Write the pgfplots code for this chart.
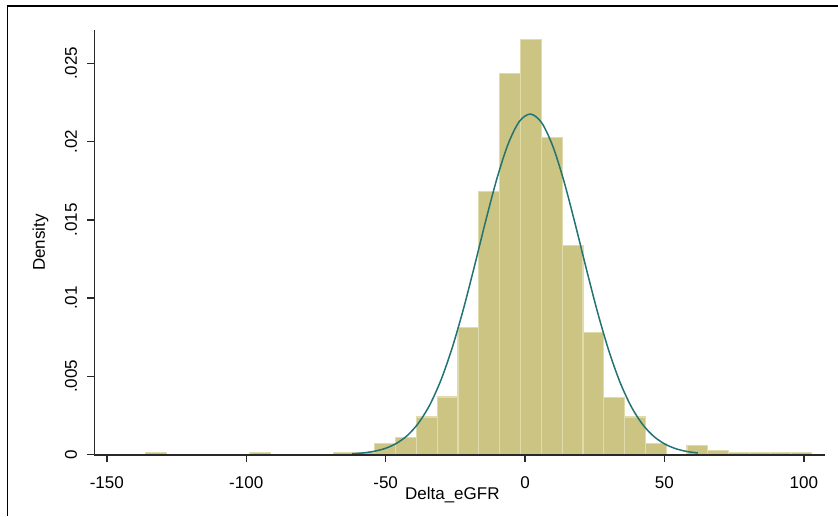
\documentclass[border=0pt]{standalone}
\usepackage{fontspec}
\setmainfont{Liberation Sans}
\usepackage{pgfplots}
\pgfplotsset{compat=1.18}
\definecolor{barfill}{RGB}{203,196,130}
\definecolor{baredge}{RGB}{224,219,172}
\definecolor{curvecol}{RGB}{35,115,115}
\definecolor{axisgray}{RGB}{40,40,40}
\begin{document}
\fontsize{8.5}{10}\selectfont
\begin{tikzpicture}
\useasboundingbox (0,0) rectangle (419pt,258pt);
\draw[line width=0.85pt] (3.75pt,0) -- (3.75pt,255.1pt) -- (419pt,255.1pt);
\begin{axis}[
  at={(47.15pt,30.5pt)}, anchor=south west,
  scale only axis, width=365.35pt, height=212.5pt,
  xmin=-154.5, xmax=107.6, ymin=-0.00003, ymax=0.02713,
  axis lines=left, axis line style={-, line width=0.7pt, color=axisgray},
  tick style={line width=0.7pt, color=axisgray},
  tick align=outside, major tick length=3.5pt,
  scaled y ticks=false, scaled x ticks=false,
  xtick={-150,-100,-50,0,50,100},
  xticklabels={-150,-100,-50,0,50,100},
  ytick={0,0.005,0.01,0.015,0.02,0.025},
  yticklabels={0,.005,.01,.015,.02,.025},
  xticklabel style={anchor=north, inner sep=0pt},
  yticklabel style={rotate=90, anchor=base, inner sep=0pt},
  xticklabel shift=7.3pt,
  yticklabel shift=5.2pt,
  font=\fontsize{8.5}{10}\selectfont,
  xlabel={Delta\_eGFR},
  ylabel={Density},
  xlabel style={at={(axis description cs:0.490,-0.1035)}, anchor=base, inner sep=0pt},
  ylabel style={at={(axis description cs:-0.0675,0.5)}, rotate=0, anchor=base, inner sep=0pt},
  axis on top,
]
\addplot[ybar interval, fill=barfill, draw=baredge, line width=0.6pt] coordinates {
(-136.000,0.00013) (-128.535,0) (-121.070,0) (-113.605,0) (-106.140,0)
(-98.675,0.00013) (-91.210,0) (-83.745,0) (-76.280,0)
(-68.815,0.00013) (-61.350,0.00013) (-53.885,0.00070) (-46.420,0.00111)
(-38.955,0.00240) (-31.490,0.00368) (-24.025,0.00812) (-16.560,0.01679)
(-9.095,0.02436) (-1.630,0.02653) (5.835,0.02024) (13.300,0.01338)
(20.765,0.00780) (28.230,0.00362) (35.695,0.00240) (43.160,0.00070)
(50.625,0) (58.090,0.00060) (65.555,0.00026) (73.020,0.00013)
(80.485,0.00013) (87.950,0.00013) (95.415,0.00013) (102.880,0.00013)
};
\addplot[smooth, color=curvecol, line width=0.75pt, mark=none] coordinates {
(-62,0.0000509) (-58,0.0001063) (-54,0.0002117) (-50,0.0004014)
(-46,0.0007262) (-42,0.0012525) (-38,0.0020608) (-34,0.0032318)
(-30,0.0048318) (-26,0.0068896) (-22,0.0093664) (-18,0.012142)
(-14,0.015008) (-10,0.017688) (-6,0.019876) (-2,0.021297)
(2,0.021759) (6,0.021196) (10,0.019688) (14,0.017437)
(18,0.014725) (22,0.011857) (26,0.0091026) (30,0.0066636)
(34,0.0046516) (38,0.0030954) (42,0.0019644) (46,0.0011887)
(50,0.0006858) (54,0.0003774) (58,0.0001979) (62,0.0000989)
};
\end{axis}
\end{tikzpicture}
\end{document}
